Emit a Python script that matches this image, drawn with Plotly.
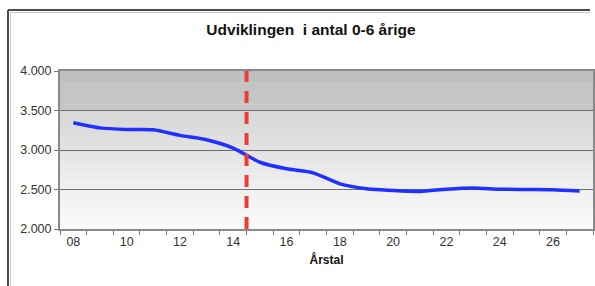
import plotly.graph_objects as go

# ---- data ----
years = ["08", "09", "10", "11", "12", "13", "14", "15", "16", "17",
         "18", "19", "20", "21", "22", "23", "24", "25", "26", "27"]
children_0_6 = [3345, 3280, 3260, 3256, 3185, 3130, 3025, 2845, 2762, 2711,
                2572, 2510, 2487, 2476, 2504, 2520, 2504, 2500, 2497, 2480]
forecast_start = "15"
y_ticks = [2000, 2500, 3000, 3500, 4000]

title_text = "Udviklingen  i antal 0-6 årige"
x_title = "Årstal"

x_idx = list(range(len(years)))
label_idx = x_idx[::2]
label_txt = years[::2]
split_x = years.index(forecast_start) - 0.5

fig = go.Figure()
fig.add_trace(go.Scatter(
    x=x_idx, y=children_0_6, mode="lines",
    line=dict(color="#1f30ff", width=3.5, shape="spline", smoothing=0.7),
    hoverinfo="skip", showlegend=False,
))

shapes = []
# background gradient (style only)
n = 80
for i in range(n):
    t0 = i / n
    t1 = (i + 1) / n
    t = (t0 + t1) / 2
    if t > 0.75:
        v = 0xc4 - (t - 0.75) / 0.25 * (0xc4 - 0xbf)
    else:
        v = 0xfc - t / 0.75 * (0xfc - 0xd6)
    v = int(round(v))
    shapes.append(dict(type="rect", xref="paper", yref="paper",
                       x0=0, x1=1, y0=t0, y1=t1 + 0.002,
                       fillcolor=f"rgb({v},{v},{v})", line=dict(width=0),
                       layer="below"))

# forecast split line
shapes.append(dict(type="line", xref="x", yref="paper",
                   x0=split_x, x1=split_x, y0=0, y1=1,
                   line=dict(color="#ee3b33", width=4, dash="12px,9px"),
                   layer="above"))

# outer chart frame (top and left edges visible)
plot_left, plot_w = 60, 533
plot_top, plot_h = 71, 158
def px(xp):
    return (xp - plot_left) / plot_w
def py(yp):
    return 1 + (plot_top - yp) / plot_h
shapes.append(dict(type="line", xref="paper", yref="paper",
                   x0=px(8), x1=px(590), y0=py(10), y1=py(10),
                   line=dict(color="#4a4a4a", width=2)))
shapes.append(dict(type="line", xref="paper", yref="paper",
                   x0=px(8), x1=px(8), y0=py(10), y1=py(290),
                   line=dict(color="#4a4a4a", width=2)))
shapes.append(dict(type="line", xref="paper", yref="paper",
                   x0=px(10.5), x1=px(10.5), y0=py(12), y1=py(290),
                   line=dict(color="#c8c8c8", width=1)))
shapes.append(dict(type="line", xref="paper", yref="paper",
                   x0=px(10), x1=px(590), y0=py(12.5), y1=py(12.5),
                   line=dict(color="#c8c8c8", width=1)))

fig.update_layout(
    width=595, height=286,
    margin=dict(l=plot_left, r=595 - plot_left - plot_w, t=plot_top,
                b=286 - plot_top - plot_h, autoexpand=False),
    paper_bgcolor="white",
    plot_bgcolor="white",
    separators=",.",
    font=dict(family="Liberation Sans, Arial, sans-serif", color="#222222"),
    title=dict(text="<b>" + title_text + "</b>", x=311 / 595, xref="container",
               xanchor="center", y=1 - 30 / 286, yref="container", yanchor="middle",
               font=dict(size=15.5, color="#111111")),
    shapes=shapes,
    showlegend=False,
)

fig.update_xaxes(
    automargin=False,
    range=[-0.5, len(years) - 0.5],
    tickmode="array", tickvals=label_idx, ticktext=label_txt,
    ticks="", showgrid=False, zeroline=False,
    showline=True, linecolor="#8a8a8a", linewidth=1.5, mirror=True,
    tickfont=dict(size=12.5, color="#333333"),
    minor=dict(tick0=-0.5, dtick=1, ticks="outside", ticklen=4,
               tickcolor="#777777", tickwidth=1, showgrid=False),
    title=dict(text="<b>" + x_title + "</b>", font=dict(size=12, color="#111111"),
               standoff=8),
)
fig.update_yaxes(
    automargin=False,
    range=[y_ticks[0], y_ticks[-1]],
    tickmode="array", tickvals=y_ticks, tickformat=",d",
    ticks="outside", ticklen=4, tickcolor="#777777",
    showgrid=True, gridcolor="#707070", gridwidth=1, zeroline=False,
    showline=True, linecolor="#8a8a8a", linewidth=2, mirror=True,
    tickfont=dict(size=12.5, color="#333333"),
)

fig.write_html(
    "out.html",
    config={"displayModeBar": False},
    post_script="document.body.style.margin='0';document.body.style.overflow='hidden';",
)
